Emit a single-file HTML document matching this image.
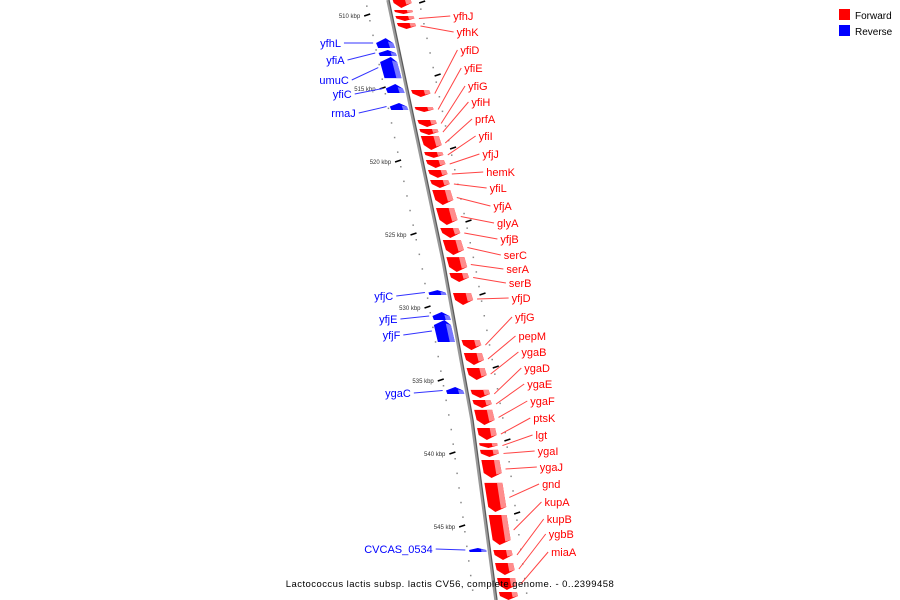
<!DOCTYPE html>
<html><head><meta charset="utf-8"><style>
html,body{margin:0;padding:0;background:#fff;width:900px;height:600px;overflow:hidden}
svg{display:block}
</style></head><body>
<svg id="chart" width="900" height="600" xmlns="http://www.w3.org/2000/svg" font-family="Liberation Sans, sans-serif">
<g>
<rect x="839" y="9" width="11" height="11" fill="#f00"/>
<text x="855" y="19" font-size="10">Forward</text>
<rect x="839" y="25" width="11" height="11" fill="#00f"/>
<text x="855" y="35" font-size="10">Reverse</text>
</g>
</svg>
<script>
const fwdNames=["","","yfhJ","yfhK","yfiD","yfiE","yfiG","yfiH","prfA","yfiI","yfjJ","hemK","yfiL","yfjA","glyA","yfjB","serC","serA","serB","yfjD","yfjG","pepM","ygaB","ygaD","ygaE","ygaF","ptsK","lgt","ygaI","ygaJ","gnd","kupA","kupB","ygbB","miaA",""];
const fwdStart=[508.6,509.66,510.07,510.55,515.14,516.30,517.19,517.81,518.29,519.38,519.93,520.62,521.30,521.99,523.22,524.59,525.41,526.58,527.67,529.04,532.26,533.15,534.18,535.68,536.37,537.05,538.29,539.32,539.79,540.48,542.05,544.25,546.64,547.53,548.56,549.52];
const fwdEnd=[509.52,509.93,510.41,510.96,515.62,516.64,517.67,518.22,519.25,519.79,520.48,521.16,521.85,523.01,524.38,525.27,526.44,527.60,528.29,529.86,532.95,533.97,535.00,536.23,536.92,538.08,539.11,539.66,540.27,541.71,544.04,546.30,547.33,548.36,549.38,550.9];
const fwdLabelRow=[0,0,20,36,54,72,90,106,123,140,158,176,192,210,227,243,259,273,287,302,321,340,356,372,388,405,422,439,455,471,488,506,523,538,556,0];
const revNames=["yfhL","yfiA","umuC","yfiC","rmaJ","yfjC","yfjE","yfjF","ygaC","CVCAS_0534"];
const revStart=[511.58,512.40,512.88,514.73,516.03,528.84,530.34,530.89,535.48,546.51];
const revEnd=[512.26,512.81,514.32,515.34,516.51,529.18,530.89,532.40,535.96,546.78];
const revLabelRow=[47,64,84,98,117,300,323,339,397,553];
const majorTicks=[510,515,520,525,530,535,540,545];

const NS="http://www.w3.org/2000/svg";
const svg=document.getElementById('chart');
function Y(k){return 15+(k-510)*14.6;}
const lp=[[0,388],[260,443],[420,472],[600,496]];
function LX(y){
  for(let i=0;i<lp.length-1;i++){const a=lp[i],b=lp[i+1];if(y<=b[0])return a[1]+(y-a[0])*(b[1]-a[1])/(b[0]-a[0]);}
  return lp[3][1]+(y-600)*0.133;
}
function el(t,a){const e=document.createElementNS(NS,t);for(const k in a)e.setAttribute(k,a[k]);svg.appendChild(e);return e;}

for(let k=509;k<=551;k+=1){
  const y=Y(k);if(y<0||y>598)continue;
  const d1=el('rect',{x:LX(y)-22,y:y+5,width:1.5,height:1.5,fill:'#888'});
  
  
  const d2=el('rect',{x:LX(y)+32,y:y+8,width:1.5,height:1.5,fill:'#888'});
  
  
}
majorTicks.forEach(k=>{
  const y=Y(k),x=LX(y);
  const t=el('line',{x1:x-27,y1:y+1,x2:x-21,y2:y-1,stroke:'#000','stroke-width':1.6});
  
  
  const tx=el('text',{x:x-31,y:y+3,'font-size':6,'text-anchor':'end',fill:'#333'});
  tx.textContent=k+' kbp';
  
  
  const r=el('line',{x1:x+28,y1:y-12,x2:x+34,y2:y-14,stroke:'#000','stroke-width':1.6});
  
  
});

const bb=el('polyline',{points:lp.map(p=>p[1]+','+p[0]).join(' '),fill:'none',stroke:'#999','stroke-width':3.5});


const bb2=el('polyline',{points:lp.map(p=>(p[1]+1)+','+p[0]).join(' '),fill:'none',stroke:'#555','stroke-width':1});



function gene(y0,y1,off0,off1,fwd,color,light,name){
  const h=Math.min(5,(y1-y0)/2);
  const a=LX(y0),b=LX(y1);
  let pts;
  if(fwd) pts=[[a+off0,y0],[a+off1,y0],[b+off1,y1-h],[(a+b)/2+(off0+off1)/2,y1],[b+off0,y1-h]];
  else pts=[[a+off0,y0+h],[(a+b)/2+(off0+off1)/2,y0],[a+off1,y0+h],[b+off1,y1],[b+off0,y1]];
  const g=el('polygon',{points:pts.map(p=>p.join(',')).join(' '),fill:color});
  
  
  const w=off1-off0;
  const s=el('polygon',{points:[[a+off1-w*0.3,fwd?y0:y0+h*0.7],[a+off1,fwd?y0:y0+h],[b+off1,fwd?y1-h:y1],[b+off1-w*0.3,fwd?y1-h*0.7:y1]].map(p=>p.join(',')).join(' '),fill:light});
  
  
}
fwdNames.forEach((n,i)=>{
  const y0=Y(fwdStart[i]),y1=Math.min(Y(fwdEnd[i]),600);
  gene(y0,y1,4,22,true,'#f00','#ff8c8c',n);
  if(n){
    const ay=(y0+y1)/2,ly=fwdLabelRow[i];
    const lx=LX(ly)+61;
    const ln=el('line',{x1:LX(ay)+27,y1:ay,x2:lx-3,y2:ly-4,stroke:'#f44','stroke-width':1});
    
    
    const t=el('text',{x:lx,y:ly,'font-size':11,fill:'#f00'});
    t.textContent=n;
    
    
  }
});
revNames.forEach((n,i)=>{
  const y0=Y(revStart[i]),y1=Y(revEnd[i]);
  gene(y0,y1,-20,-3,false,'#00f','#7777ff',n);
  const ay=(y0+y1)/2,ly=revLabelRow[i];
  const lx=LX(ly)-57;
  const ln=el('line',{x1:LX(ay)-24,y1:ay,x2:lx+3,y2:ly-4,stroke:'#33f','stroke-width':1});
  
  
  const t=el('text',{x:lx,y:ly,'font-size':11,fill:'#00f','text-anchor':'end'});
  t.textContent=n;
  
  
});
const title=el('text',{x:450,y:587,'font-size':9.5,'text-anchor':'middle','letter-spacing':0.45});
title.textContent='Lactococcus lactis subsp. lactis CV56, complete genome. - 0..2399458';


</script>
</body></html>
